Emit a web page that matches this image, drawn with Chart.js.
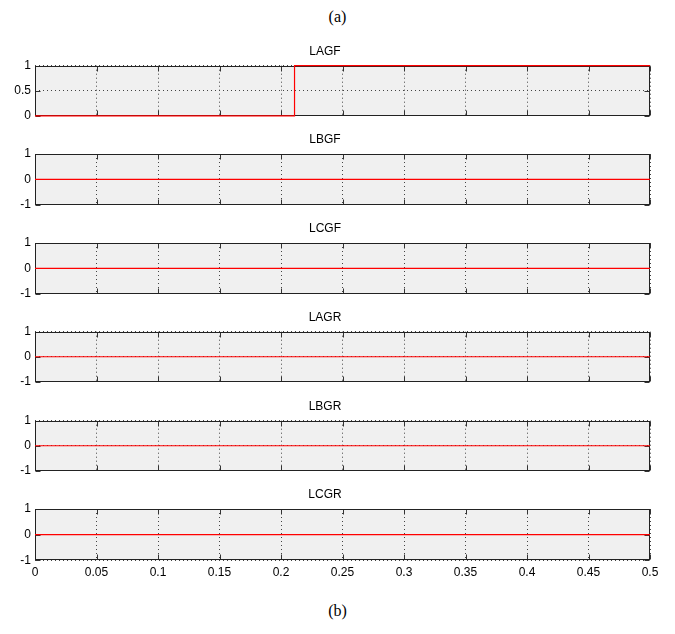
<!DOCTYPE html>
<html>
<head>
<meta charset="utf-8">
<script src="https://cdn.jsdelivr.net/npm/chart.js@4.4.1/dist/chart.umd.min.js"></script>
<style>
  html, body { margin: 0; padding: 0; background: #ffffff; }
  #wrap { position: relative; width: 675px; height: 634px; overflow: hidden; background: #fff; }
  .cap { position: absolute; left: 0; width: 675px; text-align: center;
         font-family: 'Liberation Serif', 'Times New Roman', serif; font-size: 16px; color: #000; }
  .pane { position: absolute; left: 0; width: 675px; }
  canvas { display: block; }
</style>
</head>
<body>
<div id="wrap">
  <div class="cap" id="capA" style="top:8px;">(a)</div>
  <div class="cap" id="capB" style="top:602px;">(b)</div>
</div>
<script>
// ---- data ----
const xValues = [0, 0.211, 0.211, 0.5];
const LAGF = [0, 0, 1, 1];
const LBGF = [0, 0, 0, 0];
const LCGF = [0, 0, 0, 0];
const LAGR = [0, 0, 0, 0];
const LBGR = [0, 0, 0, 0];
const LCGR = [0, 0, 0, 0];
const panelTitles = ['LAGF', 'LBGF', 'LCGF', 'LAGR', 'LBGR', 'LCGR'];
const panelSeries = [LAGF, LBGF, LCGF, LAGR, LBGR, LCGR];
const xTickLabels = ['0', '0.05', '0.1', '0.15', '0.2', '0.25', '0.3', '0.35', '0.4', '0.45', '0.5'];
const yTicksUnit = [0, 0.5, 1];
const yTicksSym = [-1, 0, 1];

// ---- layout ----
const panelTops = [65.7, 154, 243, 331.7, 420.7, 509];
const areaH = 51.3;
const titleBox = 21.2;
const FONT = "'Liberation Sans Narrow', 'Arial Narrow', 'Liberation Sans', Arial, sans-serif";

const panelPlugin = {
  id: 'panelDecor',
  beforeDraw(chart) {
    const a = chart.chartArea, ctx = chart.ctx;
    ctx.save();
    ctx.fillStyle = '#f0f0f0';
    ctx.fillRect(a.left, a.top, a.right - a.left, a.bottom - a.top);
    ctx.restore();
  },
  beforeDatasetsDraw(chart) {
    const a = chart.chartArea, ctx = chart.ctx;
    const xs = chart.scales.x, ys = chart.scales.y;
    ctx.save();
    ctx.strokeStyle = '#333333';
    ctx.lineWidth = 1;
    const L = Math.round(a.left) + 0.5, R = Math.round(a.right) - 0.5;
    const T = Math.round(a.top) + 0.5, B = Math.round(a.bottom) - 0.5;
    ctx.beginPath();
    xs.ticks.forEach(t => {
      const px = Math.round(xs.getPixelForValue(t.value)) + 0.5;
      ctx.moveTo(px, T); ctx.lineTo(px, T + 5);
      ctx.moveTo(px, B); ctx.lineTo(px, B - 5);
    });
    ys.ticks.forEach(t => {
      const py = Math.round(ys.getPixelForValue(t.value)) + 0.5;
      ctx.moveTo(L, py); ctx.lineTo(L + 5, py);
      ctx.moveTo(R, py); ctx.lineTo(R - 5, py);
    });
    ctx.stroke();
    ctx.strokeStyle = '#222222';
    ctx.strokeRect(L, T, R - L, B - T);
    ctx.restore();
  }
};

const wrap = document.getElementById('wrap');
panelTitles.forEach((title, i) => {
  const last = i === panelTitles.length - 1;
  const pt = panelTops[i];
  const top = Math.floor(pt - titleBox - 0.8);
  const padTop = (pt - titleBox) - top;
  const h = last ? 98 : 84;
  const xAxisH = last ? 19.4 : 0;
  const padBottom = h - padTop - titleBox - areaH - xAxisH;
  const div = document.createElement('div');
  div.className = 'pane';
  div.style.top = top + 'px';
  div.style.height = h + 'px';
  const cv = document.createElement('canvas');
  cv.width = 675; cv.height = h;
  div.appendChild(cv);
  wrap.appendChild(div);

  const yt = i === 0 ? yTicksUnit : yTicksSym;
  new Chart(cv.getContext('2d'), {
    type: 'line',
    data: {
      datasets: [{
        data: xValues.map((x, k) => ({ x: x, y: panelSeries[i][k] })),
        borderColor: '#ff0000',
        borderWidth: 1.2,
        pointRadius: 0,
        tension: 0,
        fill: false,
        clip: false
      }]
    },
    options: {
      responsive: false,
      animation: false,
      devicePixelRatio: 1,
      layout: { padding: { left: 0, right: 25, top: padTop, bottom: padBottom } },
      plugins: {
        legend: { display: false },
        tooltip: { enabled: false },
        title: {
          display: true,
          text: title,
          color: '#000',
          font: { family: FONT, size: 12, weight: 'normal' },
          padding: { top: 0, bottom: 6.8 }
        }
      },
      scales: {
        x: {
          type: 'linear',
          min: 0, max: 0.5,
          afterBuildTicks(s) { s.ticks = xTickLabels.map(v => ({ value: parseFloat(v) })); },
          ticks: {
            display: last,
            padding: 5,
            color: '#000',
            maxRotation: 0,
            autoSkip: false,
            font: { family: FONT, size: 12 },
            callback: (v, idx) => xTickLabels[idx]
          },
          grid: { color: '#444444', lineWidth: 1, drawTicks: false },
          border: { display: false, dash: [1, 3] },
          afterFit(s) { s.height = xAxisH; }
        },
        y: {
          type: 'linear',
          min: yt[0], max: yt[yt.length - 1],
          afterBuildTicks(s) { s.ticks = yt.map(v => ({ value: v })); },
          ticks: {
            padding: 4,
            color: '#000',
            font: { family: FONT, size: 12 },
            callback: v => String(v)
          },
          grid: { color: '#444444', lineWidth: 1, drawTicks: false },
          border: { display: false, dash: [1, 3] },
          afterFit(s) { s.width = 35; }
        }
      }
    },
    plugins: [panelPlugin]
  });
});
</script>
</body>
</html>
